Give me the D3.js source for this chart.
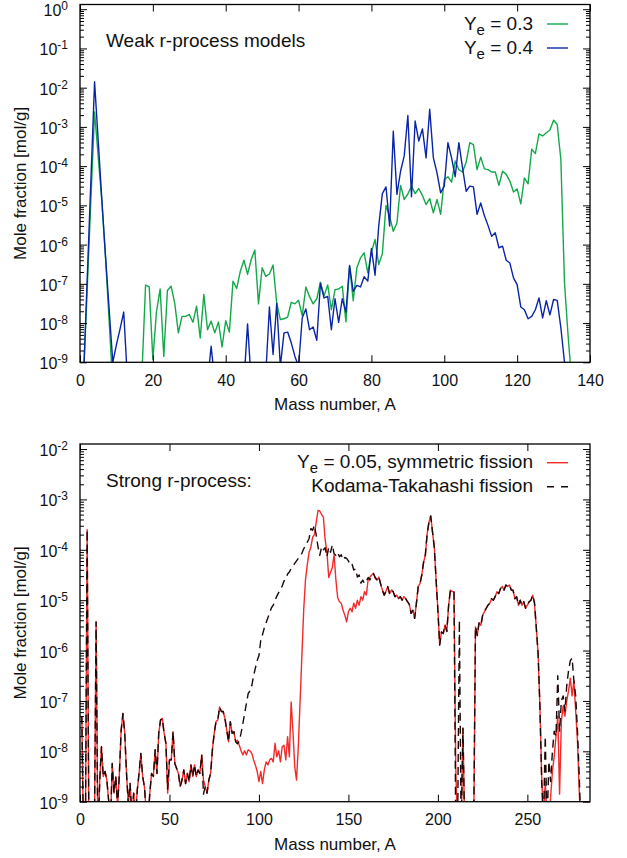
<!DOCTYPE html>
<html>
<head>
<meta charset="utf-8">
<script src="https://cdn.jsdelivr.net/npm/d3@7"></script>
<style>
  body { margin: 0; background: #fff; }
  svg { display: block; }
</style>
</head>
<body>
<div id="viz-body"></div>
<script>
// All series: log10 of the mole fraction [mol/g], one value per mass number A,
// starting at A = massStart. null = no point in the plotted file.

// ---- weak r-process panel ----
const weakMassStart = 1;
const weakYe03 = [
  -9.3, null, null, -2.62, null, -4.9, -6.3, null, -9.6, null,
  null, null, null, null, null, null, -9.3, -7.03, -7.08, -8.93,
  -7.70, -7.13, -8.85, -7.17, -7.06, -7.49, -8.25, -7.83, -7.83, -7.78,
  -7.98, -7.57, -8.38, -7.27, -8.17, -7.95, -8.25, -7.97, -8.61, -7.94,
  -8.23, -6.93, -7.12, -6.68, -6.40, -6.76, -6.38, -6.14, -7.51, -6.59,
  -6.81, -6.75, -6.52, -7.49, -7.91, -7.89, -7.85, -7.47, -7.51, -7.42,
  -7.81, -7.08, -7.32, -7.51, -7.38, -6.96, -7.30, -7.03, -7.66, -7.15,
  -7.13, -7.06, -7.97, -6.55, -7.43, -6.59, -6.34, -6.21, -6.72, -6.19,
  -5.87, -6.51, -6.23, -5.00, -5.28, -5.66, -5.45, -4.49, -4.85, -4.71,
  -4.51, -4.70, -4.57, -4.75, -4.98, -4.83, -5.19, -4.85, -5.23, -4.34,
  -4.27, -4.41, -3.87, -4.09, -4.15, -3.90, -3.40, -3.45, -4.09, -3.77,
  -4.07, -4.09, -4.15, -4.15, -4.49, -4.13, -4.21, -4.38, -4.66, -4.58,
  -4.96, -4.30, -4.45, -3.57, -3.68, -3.18, -3.23, -3.15, -3.08, -2.83,
  -2.94, -3.83, -6.98, -8.34, -9.5
];
const weakYe04 = [
  -9.3, null, null, -1.85, null, -4.86, -6.3, null, -9.0, -8.55,
  -8.15, -7.72, -9.4, null, null, null, null, null, null, null,
  null, null, null, null, null, null, null, null, null, null,
  null, null, null, null, -9.5, -8.59, -9.5, null, null, null,
  null, null, null, null, -9.5, -8.02, -9.5, null, null, null,
  -9.3, -7.59, -8.80, -7.50, -9.1, -8.25, -8.23, -8.51, -8.85, -9.1,
  -7.87, -7.64, -8.17, -8.10, -8.44, -6.99, -7.36, -7.32, -8.17, -7.38,
  -7.98, -7.38, -7.72, -6.53, -7.19, -7.04, -7.08, -6.82, -6.93, -6.10,
  -6.78, -5.53, -4.70, -4.53, -5.53, -3.11, -4.72, -4.13, -3.74, -2.71,
  -4.78, -2.85, -3.36, -3.05, -3.79, -2.55, -3.79, -4.17, -4.68, -4.51,
  -3.40, -3.79, -4.27, -3.40, -4.04, -4.64, -4.51, -4.53, -5.23, -4.94,
  -5.26, -5.51, -5.79, -5.70, -6.08, -6.04, -6.40, -6.47, -6.85, -7.02,
  -7.59, -7.66, -7.89, -7.83, -7.66, -7.36, -7.87, -7.43, -7.79, -7.40,
  -7.42, -8.12, -9.0, -10.0
];
const weakXTicks = [0, 20, 40, 60, 80, 100, 120, 140];
const weakYExp = [0, -1, -2, -3, -4, -5, -6, -7, -8, -9];

// ---- strong r-process panel ----
const strongMassStart = 1;
const strongSymmetric = [
  -7.3, -9.8, -9.8, -3.6, -9.8, -9.8, -9.8, -9.8, -5.43, -9.8,
  -8.6, -7.91, -8.50, -8.40, -8.57, -8.97, -9.5, -8.24, -8.83, -8.50,
  -9.1, -8.44, -7.58, -7.25, -7.64, -8.44, -9.05, -8.64, -9.3, -8.83,
  -9.3, -8.77, -8.44, -8.04, -8.50, -8.70, -9.2, -9.4, -8.83, -8.44,
  -8.50, -7.97, -8.44, -7.64, -7.38, -7.35, -7.64, -7.84, -8.83, -8.17,
  -8.17, -7.61, -8.24, -8.34, -8.44, -8.70, -8.57, -8.37, -8.64, -8.44,
  -8.60, -8.27, -8.50, -8.27, -8.50, -8.37, -8.44, -8.07, -8.57, -8.70,
  -8.83, -8.57, -8.44, -7.97, -7.64, -7.41, -7.38, -7.12, -7.21, -7.21,
  -7.35, -7.58, -7.81, -7.41, -7.64, -7.61, -7.81, -7.78, -7.88, -7.99,
  -8.07, -7.99, -8.07, -7.97, -7.99, -8.04, -8.17, -8.27, -8.40, -8.60,
  -8.40, -8.64, -8.37, -8.21, -8.27, -8.17, -8.14, -8.21, -7.84, -8.11,
  -7.99, -8.21, -7.91, -7.88, -8.17, -7.71, -8.11, -7.02, -7.60, -8.31,
  -8.57, -7.90, -7.00, -6.10, -5.20, -4.60, -4.30, -4.05, -3.95, -3.75,
  -3.70, -3.45, -3.22, -3.23, -3.30, -3.35, -3.80, -4.05, -4.55, -4.45,
  -4.35, -4.10, -4.60, -4.95, -5.03, -5.06, -5.20, -5.30, -5.43, -5.23,
  -5.16, -5.23, -5.06, -5.16, -5.00, -5.10, -4.93, -5.00, -4.83, -4.90,
  -4.60, -4.54, -4.50, -4.47, -4.57, -4.60, -4.54, -4.68, -4.80, -4.90,
  -4.82, -4.73, -4.87, -4.80, -4.83, -4.93, -4.90, -4.97, -4.93, -5.00,
  -4.93, -4.97, -5.03, -5.08, -5.26, -5.20, -5.36, -5.06, -4.73, -4.67,
  -4.50, -4.25, -4.10, -3.68, -3.45, -3.33, -3.65, -3.95, -4.60, -5.20,
  -5.89, -5.63, -5.66, -5.49, -5.62, -5.10, -4.80, -4.83, -4.83, -8.34,
  -9.6, -9.6, -9.6, -7.54, -9.6, -9.8, -9.8, -9.8, -9.8, -9.6,
  -5.53, -5.70, -5.45, -5.50, -5.30, -5.23, -5.16, -5.10, -5.06, -4.97,
  -5.00, -4.93, -4.83, -4.87, -4.77, -4.73, -4.80, -4.70, -4.73, -4.70,
  -4.80, -4.80, -4.97, -4.93, -5.10, -5.00, -5.10, -5.03, -5.16, -5.10,
  -5.03, -5.00, -4.90, -5.06, -5.55, -6.06, -7.10, -8.50, -9.40, -8.60,
  -9.40, -9.60, -8.90, -8.40, -8.10, -7.70, -7.30, -8.85, -7.40, -7.10,
  -7.30, -7.00, -6.80, -6.55, -6.90, -6.60, -7.20, -7.80, -8.80, -9.60
];
const strongKodama = [
  -7.3, -9.8, -9.8, -3.6, -9.8, -9.8, -9.8, -9.8, -5.43, -9.8,
  -8.6, -7.91, -8.50, -8.40, -8.57, -8.97, -9.5, -8.24, -8.83, -8.50,
  -9.1, -8.44, -7.58, -7.25, -7.64, -8.44, -9.05, -8.64, -9.3, -8.83,
  -9.3, -8.77, -8.44, -8.04, -8.50, -8.70, -9.2, -9.4, -8.83, -8.44,
  -8.50, -7.97, -8.44, -7.64, -7.38, -7.35, -7.64, -7.84, -8.75, -8.17,
  -8.17, -7.61, -8.24, -8.34, -8.44, -8.70, -8.57, -8.37, -8.64, -8.44,
  -8.60, -8.27, -8.50, -8.27, -8.50, -8.37, -8.44, -8.07, -8.85, -8.70,
  -8.83, -8.57, -8.44, -7.97, -7.64, -7.41, -7.38, -7.12, -7.21, -7.21,
  -7.35, -7.58, -7.81, -7.41, -7.64, -7.61, -7.81, -7.85, -7.80, -7.64,
  -7.45, -7.25, -7.05, -6.85, -6.80, -6.70, -6.50, -6.35, -6.20, -6.10,
  -5.80, -5.68, -5.55, -5.45, -5.35, -5.25, -5.15, -5.10, -5.00, -4.92,
  -4.85, -4.78, -4.72, -4.62, -4.58, -4.48, -4.44, -4.37, -4.33, -4.27,
  -4.22, -4.17, -4.12, -4.07, -3.98, -3.92, -3.85, -3.78, -3.58, -3.61,
  -3.51, -3.71, -3.94, -4.11, -3.94, -4.00, -3.96, -4.14, -3.95, -4.05,
  -3.90, -4.08, -4.11, -4.05, -4.14, -4.10, -4.20, -4.15, -4.17, -4.22,
  -4.30, -4.28, -4.40, -4.38, -4.54, -4.50, -4.66, -4.60, -4.67, -4.62,
  -4.55, -4.60, -4.52, -4.47, -4.55, -4.60, -4.54, -4.68, -4.80, -4.90,
  -4.82, -4.73, -4.87, -4.80, -4.83, -4.93, -4.90, -4.97, -4.93, -5.00,
  -4.93, -4.97, -5.03, -5.08, -5.26, -5.20, -5.36, -5.06, -4.73, -4.67,
  -4.50, -4.25, -4.10, -3.68, -3.45, -3.33, -3.65, -3.95, -4.60, -5.20,
  -5.89, -5.63, -5.66, -5.49, -5.62, -5.10, -4.80, -4.83, -4.83, -9.6,
  -9.6, -5.4, -9.6, -7.54, -9.6, -9.8, -9.8, -9.8, -9.8, -9.6,
  -5.53, -5.70, -5.45, -5.50, -5.30, -5.23, -5.16, -5.10, -5.06, -4.97,
  -5.00, -4.93, -4.83, -4.87, -4.77, -4.73, -4.80, -4.70, -4.73, -4.70,
  -4.80, -4.80, -4.97, -4.93, -5.10, -5.00, -5.10, -5.03, -5.16, -5.10,
  -5.03, -5.00, -4.90, -5.06, -5.55, -6.06, -7.10, -8.60, -9.40, -7.70,
  -9.50, -8.20, -8.60, -8.00, -7.60, -7.70, -6.50, -7.60, -7.00, -6.90,
  -7.20, -6.70, -6.40, -6.20, -6.15, -6.60, -6.90, -7.60, -8.50, -9.60
];
const strongXTicks = [0, 50, 100, 150, 200, 250];
const strongYExp = [-2, -3, -4, -5, -6, -7, -8, -9];

const fontFamily = '"Liberation Sans", Arial, Helvetica, sans-serif';

const svg = d3.select("#viz-body").append("svg")
    .attr("width", 627)
    .attr("height", 858)
    .attr("font-family", fontFamily);

function toPoints(start, logs) {
    return logs.map((v, i) => ({ a: start + i, v: v }))
        .filter(d => d.v !== null);
}

function drawPanel(p) {
    const x = d3.scaleLinear().domain(p.xDomain).range([p.left, p.right]);
    const y = d3.scaleLog().domain(p.yDomain).range([p.bottom, p.top]);
    const g = svg.append("g");

    // clip the curves to the frame
    g.append("clipPath").attr("id", p.id + "-clip")
        .append("rect")
        .attr("x", p.left).attr("y", p.top)
        .attr("width", p.right - p.left).attr("height", p.bottom - p.top);

    const line = d3.line()
        .x(d => x(d.a))
        .y(d => y(Math.pow(10, d.v)));

    const plot = g.append("g").attr("clip-path", "url(#" + p.id + "-clip)");
    p.series.forEach(s => {
        plot.append("path")
            .datum(toPoints(s.start, s.values))
            .attr("fill", "none")
            .attr("stroke", s.color)
            .attr("stroke-width", 1.4)
            .attr("stroke-linejoin", "round")
            .attr("stroke-dasharray", s.dash || null)
            .attr("d", line);
    });

    // minor ticks 2..9 per decade
    const lo = Math.floor(Math.log10(p.yDomain[0])), hi = Math.ceil(Math.log10(p.yDomain[1]));
    const minors = [];
    for (let k = lo; k < hi; k++)
        for (let m = 2; m <= 9; m++) {
            const v = m * Math.pow(10, k);
            if (v > p.yDomain[0] && v < p.yDomain[1]) minors.push(v);
        }
    const majors = p.yExp.map(e => Math.pow(10, e));

    const styleAxis = sel => {
        sel.select(".domain").remove();
        sel.selectAll(".tick line").attr("stroke", "#000").attr("stroke-width", 1);
        sel.attr("font-family", fontFamily).attr("font-size", 16);
        sel.selectAll(".tick text").attr("fill", "#111");
    };

    g.append("g").attr("transform", "translate(0," + p.bottom + ")")
        .call(d3.axisBottom(x).tickValues(p.xTicks).tickSizeInner(-7).tickSizeOuter(0)
            .tickPadding(12).tickFormat(d3.format("d")))
        .call(styleAxis);
    g.append("g").attr("transform", "translate(0," + p.top + ")")
        .call(d3.axisTop(x).tickValues(p.xTicks).tickSizeInner(-7).tickSizeOuter(0).tickFormat(""))
        .call(styleAxis);

    [[d3.axisLeft, p.left], [d3.axisRight, p.right]].forEach(([axis, pos]) => {
        g.append("g").attr("transform", "translate(" + pos + ",0)")
            .call(axis(y).tickValues(majors).tickSizeInner(-7).tickSizeOuter(0).tickFormat(""))
            .call(styleAxis);
        g.append("g").attr("transform", "translate(" + pos + ",0)")
            .call(axis(y).tickValues(minors).tickSizeInner(-4).tickSizeOuter(0).tickFormat(""))
            .call(styleAxis);
    });

    // y tick labels 10^k
    p.yExp.forEach(e => {
        const t = g.append("text")
            .attr("x", p.left - 12)
            .attr("y", y(Math.pow(10, e)) + 7)
            .attr("text-anchor", "end")
            .attr("font-size", 16)
            .attr("fill", "#111");
        t.append("tspan").text("10");
        t.append("tspan").attr("dy", -6).attr("font-size", 12).text(e);
    });

    // frame
    g.append("rect")
        .attr("x", p.left).attr("y", p.top)
        .attr("width", p.right - p.left).attr("height", p.bottom - p.top)
        .attr("fill", "none").attr("stroke", "#000").attr("stroke-width", 1.3);

    // axis titles
    g.append("text")
        .attr("x", (p.left + p.right) / 2).attr("y", p.bottom + 48)
        .attr("text-anchor", "middle").attr("font-size", 17).attr("fill", "#111")
        .text("Mass number, A");
    g.append("text")
        .attr("transform", "translate(22," + (p.top + p.bottom) / 2 + ") rotate(-90)")
        .attr("text-anchor", "middle").attr("dominant-baseline", "middle")
        .attr("font-size", 17).attr("fill", "#111")
        .text("Mole fraction [mol/g]");

    // panel title
    g.append("text")
        .attr("x", 106).attr("y", p.top + p.titleDy)
        .attr("font-size", 19).attr("fill", "#111")
        .text(p.title);

    // legend
    p.series.forEach((s, i) => {
        const ly = p.top + p.legendDy + i * 24;
        const t = g.append("text")
            .attr("x", 533).attr("y", ly + 5.5)
            .attr("text-anchor", "end").attr("font-size", 19).attr("fill", "#111");
        if (s.sub) {
            t.append("tspan").text("Y");
            t.append("tspan").attr("dy", 5).attr("font-size", 15).text("e");
            t.append("tspan").attr("dy", -5).text(s.label);
        } else {
            t.text(s.label);
        }
        g.append("line")
            .attr("x1", 547).attr("x2", 568).attr("y1", ly).attr("y2", ly)
            .attr("stroke", s.color).attr("stroke-width", 1.4)
            .attr("stroke-dasharray", s.dash ? "7,7" : null);
    });
}

drawPanel({
    id: "weak",
    left: 80, right: 590, top: 4.5, bottom: 362.3,
    xDomain: [0, 140], yDomain: [1e-9, Math.pow(10, 0.12)],
    xTicks: weakXTicks, yExp: weakYExp,
    title: "Weak r-process models", titleDy: 42.5, legendDy: 19.5,
    series: [
        { start: weakMassStart, values: weakYe03, color: "#13a84a", sub: true, label: " = 0.3" },
        { start: weakMassStart, values: weakYe04, color: "#0a24a8", sub: true, label: " = 0.4" }
    ]
});

drawPanel({
    id: "strong",
    left: 80, right: 590, top: 444, bottom: 801.7,
    xDomain: [0, 285], yDomain: [1e-9, Math.pow(10, -1.9)],
    xTicks: strongXTicks, yExp: strongYExp,
    title: "Strong r-process:", titleDy: 43, legendDy: 18.7,
    series: [
        { start: strongMassStart, values: strongSymmetric, color: "#f22a2a", sub: true, label: " = 0.05, symmetric fission" },
        { start: strongMassStart, values: strongKodama, color: "#1a0808", dash: "8,5", label: "Kodama-Takahashi fission" }
    ]
});
</script>
</body>
</html>
